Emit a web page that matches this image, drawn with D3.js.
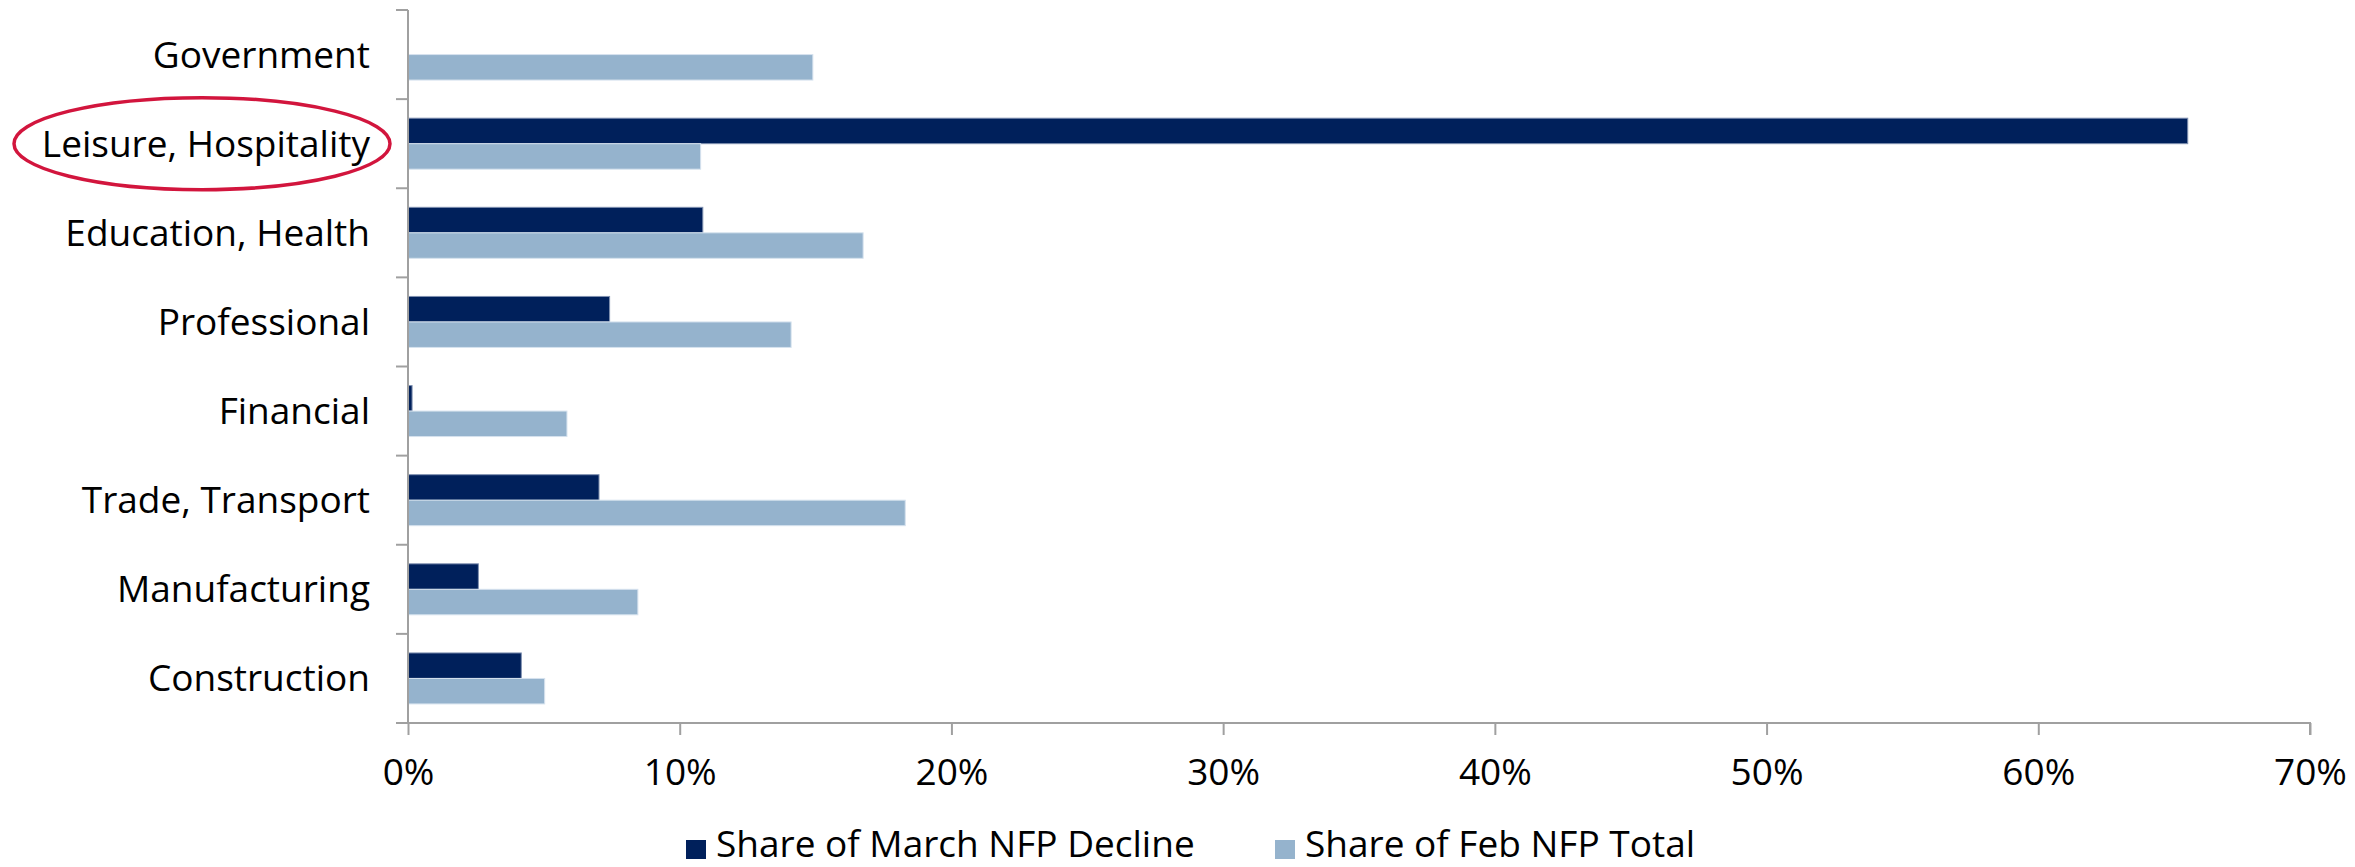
<!DOCTYPE html>
<html>
<head>
<meta charset="utf-8">
<script src="https://cdn.jsdelivr.net/npm/d3@7"></script>
<style>
  body { margin: 0; background: #fff; }
  text { font-family: "Open Sans", "Liberation Sans", sans-serif; fill: #000; }
</style>
</head>
<body>
<div id="chart"></div>
<script>
// data, top to bottom as in the chart
var categories = ["Government", "Leisure, Hospitality", "Education, Health", "Professional",
                  "Financial", "Trade, Transport", "Manufacturing", "Construction"];
var march_decline = [0, 65.5, 10.85, 7.42, 0.15, 7.03, 2.59, 4.17];
var feb_total = [14.9, 10.77, 16.75, 14.1, 5.85, 18.3, 8.46, 5.03];
var x_ticks = [0, 10, 20, 30, 40, 50, 60, 70];
var series_names = ["Share of March NFP Decline", "Share of Feb NFP Total"];
var highlight = "Leisure, Hospitality";

var W = 2355, H = 867,
    margin = {top: 10, right: 45, bottom: 144, left: 408},
    width = W - margin.left - margin.right,
    height = H - margin.top - margin.bottom,
    dark_color = "#00205b",
    light_color = "#95b3cd",
    axis_color = "#a0a0a0",
    font_size = 37;

var svg = d3.select("#chart").append("svg")
  .attr("width", W)
  .attr("height", H);

var g = svg.append("g")
  .attr("transform", "translate(" + margin.left + "," + margin.top + ")");

var x = d3.scaleLinear().domain([0, 70]).range([0, width]);
var y = d3.scaleBand().domain(categories).range([0, height]);

// two bars per category, grouped in the middle of each band
var bar_h = y.bandwidth() * 0.286;
var sub = d3.scaleBand().domain([0, 1]).range([y.bandwidth() / 2 - bar_h, y.bandwidth() / 2 + bar_h]);

var rows = categories.map(function(c, i) {
  return {cat: c, vals: [march_decline[i], feb_total[i]]};
});

var row = g.selectAll("g.row")
  .data(rows)
  .enter().append("g")
  .attr("class", "row")
  .attr("transform", function(d) { return "translate(0," + y(d.cat) + ")"; });

row.selectAll("rect")
  .data(function(d) { return d.vals.map(function(v, k) { return {v: v, k: k}; }); })
  .enter().append("rect")
  .filter(function(d) { return d.v > 0; })
  .attr("x", 0)
  .attr("y", function(d) { return sub(d.k); })
  .attr("width", function(d) { return x(d.v); })
  .attr("height", sub.bandwidth())
  .style("fill", function(d) { return d.k === 0 ? dark_color : light_color; })
  .style("stroke", function(d) { return d.k === 0 ? "#7f90b0" : "#d6e2ee"; })
  .style("stroke-width", 1);

// category labels
g.selectAll("text.cat")
  .data(categories)
  .enter().append("text")
  .attr("class", "cat")
  .attr("x", -38)
  .attr("y", function(d) { return y(d) + y.bandwidth() / 2; })
  .attr("dy", "0.35em")
  .attr("text-anchor", "end")
  .style("font-size", font_size + "px")
  .text(function(d) { return d; });

// y axis line with ticks at band boundaries
var bounds = categories.map(function(c) { return y(c); }).concat([height]);
g.append("line")
  .attr("x1", 0).attr("x2", 0).attr("y1", 0).attr("y2", height)
  .style("stroke", axis_color).style("stroke-width", 2);
g.selectAll("line.ytick")
  .data(bounds)
  .enter().append("line")
  .attr("class", "ytick")
  .attr("x1", -12).attr("x2", 0)
  .attr("y1", function(d) { return d; }).attr("y2", function(d) { return d; })
  .style("stroke", axis_color).style("stroke-width", 2);

// x axis
var xAxis = g.append("g")
  .attr("transform", "translate(0," + height + ")")
  .call(d3.axisBottom(x).tickValues(x_ticks).tickSize(12).tickPadding(24)
    .tickFormat(function(d) { return d + "%"; }));
xAxis.select(".domain").style("stroke", axis_color).style("stroke-width", 2)
  .attr("d", "M-12,0H" + width + "V12");
xAxis.selectAll(".tick line").style("stroke", axis_color).style("stroke-width", 2);
xAxis.selectAll(".tick text")
  .style("font-size", font_size + "px")
  .style("font-family", "'Open Sans', sans-serif")
  .attr("fill", "#000");

// highlight ring round the leisure label
var cy = margin.top + y(highlight) + y.bandwidth() / 2;
svg.append("ellipse")
  .attr("cx", 202)
  .attr("cy", cy)
  .attr("rx", 188)
  .attr("ry", 46)
  .style("fill", "none")
  .style("stroke", "#d2153d")
  .style("stroke-width", 3.5);

// legend
var legend_x = [686, 1275];
var legend = svg.selectAll("g.legend")
  .data(series_names)
  .enter().append("g")
  .attr("class", "legend")
  .attr("transform", function(d, i) { return "translate(" + legend_x[i] + ",0)"; });
legend.append("rect")
  .attr("x", 0).attr("y", 840).attr("width", 20).attr("height", 19)
  .style("fill", function(d, i) { return i === 0 ? dark_color : light_color; });
legend.append("text")
  .attr("x", 30)
  .attr("y", 857)
  .style("font-size", font_size + "px")
  .text(function(d) { return d; });
</script>
</body>
</html>
